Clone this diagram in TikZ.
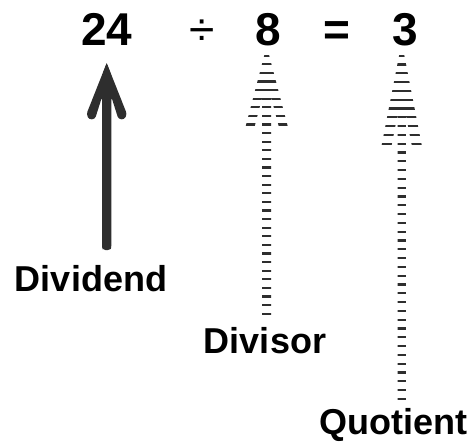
\documentclass[tikz,border=0pt]{standalone}
\usepackage{fontspec}
\setmainfont{Liberation Sans}
\definecolor{ink}{HTML}{2E2E2E}
\newcommand\stripedarrow[9]{%
  % #1 centre x, #2 apex y, #3 wing bottom y, #4 wing half span, #5 wing thickness,
  % #6 shaft half width, #7 shaft bottom y, #8 first stripe y, #9 stripe spacing
  \pgfmathsetmacro\sam{#2+(#5+#6)*(#3-#2)/#4}%
  \pgfmathsetmacro\sacount{int(floor((#7-#8)/#9))}%
  \begin{scope}
    \clip (#1,#2) -- (#1-#4,#3) -- (#1-#4+#5,#3) -- (#1-#6,\sam) -- (#1-#6,#7)
      -- (#1+#6,#7) -- (#1+#6,\sam) -- (#1+#4-#5,#3) -- (#1+#4,#3) -- cycle;
    \foreach \k in {0,...,\sacount}{
      \fill[ink] (#1-30,#8+\k*#9-1.15) rectangle (#1+30,#8+\k*#9+1.15);
    }
  \end{scope}}
\begin{document}
\begin{tikzpicture}[x=1pt,y=-1pt,
  big/.style={inner sep=0pt,anchor=base,font=\fontsize{46}{50}\selectfont\bfseries,text=black},
  sym/.style={inner sep=0pt,anchor=base,font=\fontsize{46}{50}\selectfont,text=black},
  lab/.style={inner sep=0pt,anchor=base,font=\fontsize{36}{40}\selectfont\bfseries,text=black}]
\useasboundingbox[fill=white] (0,0) rectangle (476,442);
% equation
\node[big] (dividendnum) at (106.7,45) {24};
\node[sym] (divsign) at (201.7,45) {÷};
\node[big] (divisornum) at (268.3,45) {8};
\node[big] (eqsign) at (336.7,45) {=};
\node[big] (quotientnum) at (405,45) {3};
% labels
\node[lab] (dividend) at (91,291.7) {Dividend};
\node[lab] (divisor) at (265,353) {Divisor};
\node[lab] (quotient) at (393.3,434.5) {Quotient};
% solid arrow (dividend)
\fill[ink,rounded corners=2.5pt]
  (106.7,63) -- (86.5,114) -- (89,119.5) -- (95,119) -- (102,97) -- (102,247)
  -- (103,250) -- (110.4,250) -- (111.4,247) -- (111.4,97) -- (118.4,119)
  -- (124.4,119.5) -- (126.9,114) -- cycle;
\fill[ink] (106.7,63) -- (103,73) -- (110.4,73) -- cycle;
% striped arrows
\stripedarrow{266.7}{46}{130}{22}{9}{4.5}{315}{55.7}{8.6}
\stripedarrow{401.7}{42}{150}{21}{10}{4.2}{401}{55.7}{8.8}
\end{tikzpicture}
\end{document}
